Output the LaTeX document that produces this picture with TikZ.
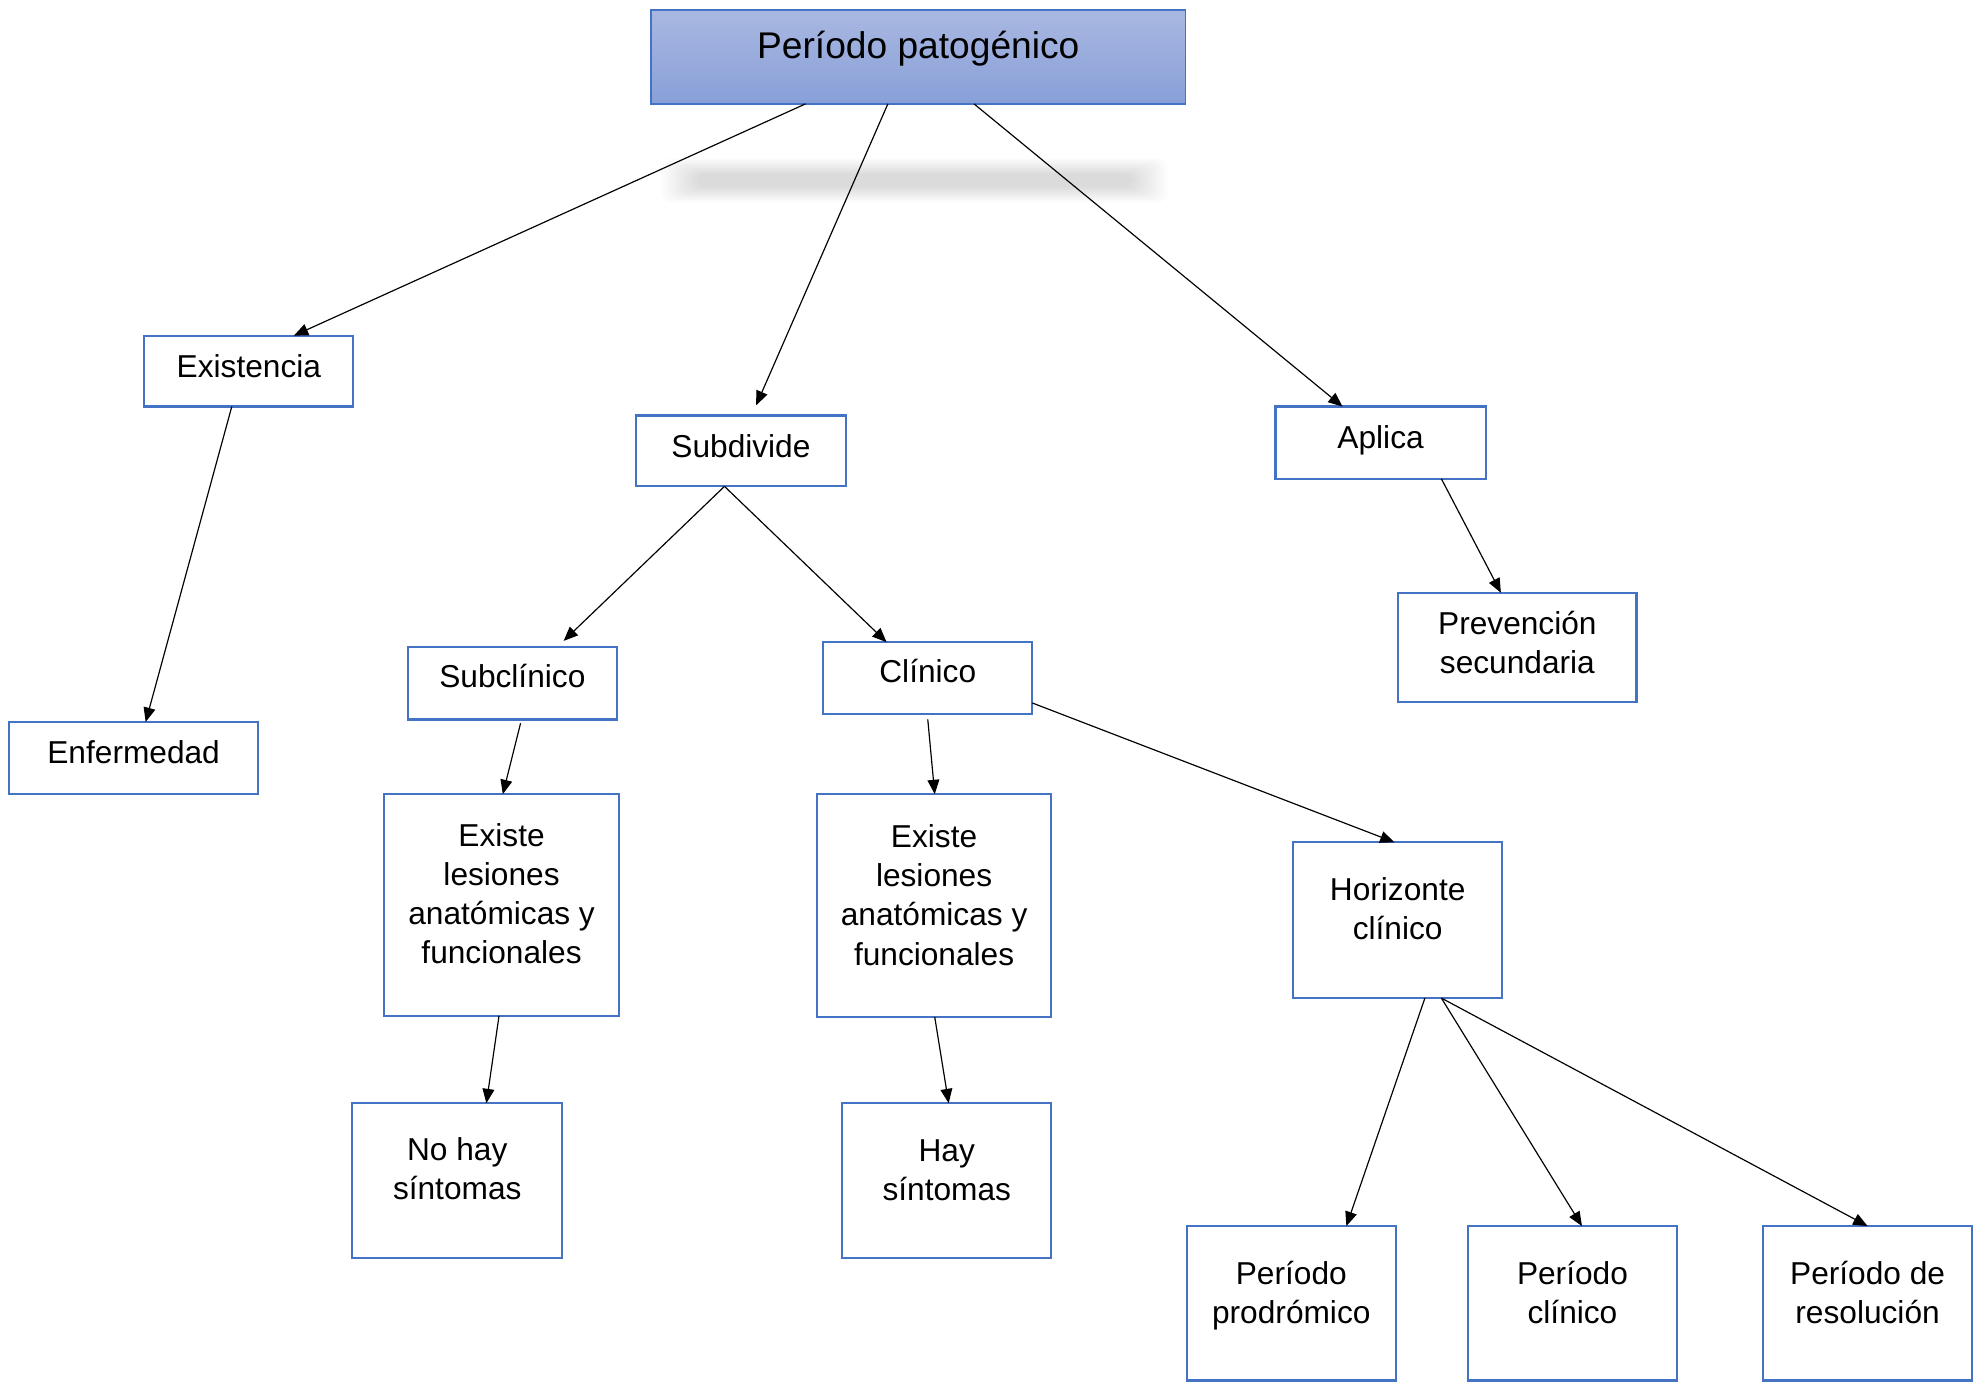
\documentclass[tikz,border=0pt]{standalone}
\usepackage{fontspec}
\setmainfont{Liberation Sans}
\usetikzlibrary{arrows.meta,calc}
\definecolor{bord}{HTML}{4472C4}
\definecolor{ttop}{HTML}{A9B8E1}
\definecolor{tbot}{HTML}{889FD8}
\newcommand\mkbox[5]{\node[bx, minimum width={(#4-#2)*0.75pt}, minimum height={(#5-#3)*0.75pt}] (#1) at ({(#2+#4)/2},{(#3+#5)/2}) {};}
\newcommand\mkone[4]{\node[lbl, anchor=base] (#1) at (#2,#3) {#4};}
\newcommand\mkmulti[4]{\node[lbl, anchor=north] (#1) at (#2,{#3-21.7}) {\strut #4};}
\tikzset{
  bx/.style={draw=bord, line width=1.3pt, fill=white, inner sep=0pt, outer sep=0pt},
  lbl/.style={inner sep=0pt, outer sep=0pt, align=center, font=\fontsize{18.75}{23.25}\selectfont},
  conn/.style={-{Triangle[length=8.5pt,width=7pt]}, line width=0.7pt, black},
}
\begin{document}
\begin{tikzpicture}[x=0.75pt,y=-0.75pt]
\useasboundingbox (0,0) rectangle (1568,1096.6);
% blurred shadow band
\foreach \i in {0,...,11}{
  \fill[black, opacity=0.012, rounded corners=6pt] ({522+\i*2.5},{125+\i*1.1}) rectangle ({922-\i*2.5},{160-\i*1.1});
}
% title
\node[draw=bord, line width=0.9pt, top color=ttop, bottom color=tbot, inner sep=0pt, outer sep=0pt,
      minimum width={(936-514)*0.75pt}, minimum height={(82-8)*0.75pt}] (title) at (725,45) {};
\node[inner sep=0pt, anchor=base, font=\fontsize{22}{26}\selectfont] (titlet) at (725,46) {Período patogénico};
% boxes
\mkbox{exist}{114}{265}{279}{321}
\mkbox{enf}{7}{570}{204}{627}
\mkbox{subd}{502}{328}{668}{384}
\mkbox{aplica}{1007}{321}{1173}{378}
\mkbox{prev}{1104}{468}{1292}{554}
\mkbox{subc}{322}{511}{487}{568}
\mkbox{clin}{650}{507}{815}{564}
\mkbox{exL}{303}{627}{489}{802}
\mkbox{exM}{645}{627}{830}{803}
\mkbox{hor}{1021}{665}{1186}{788}
\mkbox{nohay}{278}{871}{444}{993}
\mkbox{hay}{665}{871}{830}{993}
\mkbox{prod}{937}{968}{1102}{1090}
\mkbox{pclin}{1159}{968}{1324}{1090}
\mkbox{res}{1392}{968}{1557}{1090}
% texts
\mkone{existt}{196.5}{298}{Existencia}
\mkone{enft}{105.5}{603}{Enfermedad}
\mkone{subdt}{585}{361}{Subdivide}
\mkone{aplicat}{1090}{354}{Aplica}
\mkone{subct}{404.5}{543}{Subclínico}
\mkone{clint}{732.5}{539}{Clínico}
\mkmulti{prevt}{1198}{501}{Prevención\\secundaria}
\mkmulti{exLt}{396}{668}{Existe\\lesiones\\anatómicas y\\funcionales}
\mkmulti{exMt}{737.5}{669}{Existe\\lesiones\\anatómicas y\\funcionales}
\mkmulti{hort}{1103.5}{711}{Horizonte\\clínico}
\mkmulti{nohayt}{361}{916}{No hay\\síntomas}
\mkmulti{hayt}{747.5}{917}{Hay\\síntomas}
\mkmulti{prodt}{1019.5}{1014}{Período\\prodrómico}
\mkmulti{pclint}{1241.5}{1014}{Período\\clínico}
\mkmulti{rest}{1474.5}{1014}{Período de\\resolución}
% connectors
\draw[conn] ($(title.south)+(-89,0)$) -- ($(exist.north)+(35.5,0)$);
\draw[conn] ($(title.south)+(-24,0)$) -- ($(subd.north)+(12,-8)$);
\draw[conn] ($(title.south)+(44,0)$) -- ($(aplica.north)+(-30,0)$);
\draw[conn] ($(exist.south)+(-13.5,0)$) -- ($(enf.north)+(9.5,0)$);
\draw[conn] ($(subd.south)+(-13,0)$) -- ($(subc.north)+(40.5,-5)$);
\draw[conn] ($(subd.south)+(-13,0)$) -- ($(clin.north)+(-32.5,0)$);
\draw[conn] ($(aplica.south)+(48,0)$) -- ($(prev.north)+(-13,0)$);
\draw[conn] ($(subc.south)+(6.5,3)$) -- ($(exL.north)+(1,0)$);
\draw[conn] ($(clin.south)+(0,4)$) -- ($(exM.north)+(0.5,0)$);
\draw[conn] ($(clin.east)+(0,19.5)$) -- ($(hor.north)+(-2.5,0)$);
\draw[conn] ($(exL.south)+(-2,0)$) -- ($(nohay.north)+(23,0)$);
\draw[conn] ($(exM.south)+(0.5,0)$) -- ($(hay.north)+(1.5,0)$);
\draw[conn] ($(hor.south)+(21.5,0)$) -- ($(prod.north)+(43.5,0)$);
\draw[conn] ($(hor.south)+(34.5,0)$) -- ($(pclin.north)+(7.5,0)$);
\draw[conn] ($(hor.south)+(34.5,0)$) -- ($(res.north)+(0,0)$);
\end{tikzpicture}
\end{document}
